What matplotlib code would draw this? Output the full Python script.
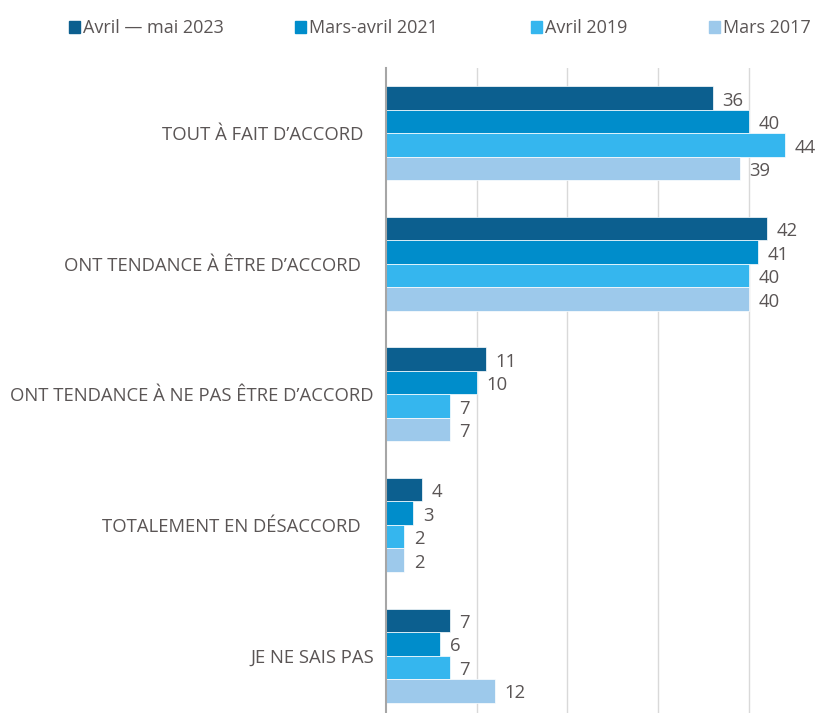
import matplotlib
matplotlib.use("Agg")
import matplotlib.pyplot as plt
from matplotlib.patches import Rectangle
import numpy as np

categories = ["TOUT À FAIT D’ACCORD", "ONT TENDANCE À ÊTRE D’ACCORD",
              "ONT TENDANCE À NE PAS ÊTRE D’ACCORD", "TOTALEMENT EN DÉSACCORD",
              "JE NE SAIS PAS"]
series_names = ["Avril — mai 2023", "Mars-avril 2021", "Avril 2019", "Mars 2017"]
v2023 = [36, 42, 11, 4, 7]
v2021 = [40, 41, 10, 3, 6]
v2019 = [44, 40, 7, 2, 7]
v2017 = [39, 40, 7, 2, 12]
series_values = [v2023, v2021, v2019, v2017]
colors = ["#0C5F8F", "#008DCB", "#35B6EE", "#9DC9EB"]

plt.rcParams['font.family'] = ['Open Sans', 'DejaVu Sans']
txt = "#5a5555"

W, H = 832, 713
fig = plt.figure(figsize=(W/100, H/100), dpi=100)
left, right, top, bottom = 386, 832, 68, 713
ax = fig.add_axes([left/W, 1-bottom/H, (right-left)/W, (bottom-top)/H])

bh = 0.18
y = np.arange(len(categories))
for k, (vals, c) in enumerate(zip(series_values, colors)):
    pos = y - 1.5*bh + k*bh
    ax.barh(pos, vals, height=bh, color=c, edgecolor="white", linewidth=0.5, zorder=3)
    for p, v in zip(pos, vals):
        ax.text(v + 1.05, p + 0.02, str(v), va="center", ha="left", fontsize=13.3, color=txt)

ax.set_xlim(0, 49.15)
ax.set_ylim(4.44, -0.5)
ax.set_xticks([10, 20, 30, 40])
ax.grid(axis="x", color="#d9d9d9", linewidth=1, zorder=0)
ax.tick_params(axis="x", length=0, labelbottom=False)
ax.set_yticks([])
label_pads = [23, 25, 12, 25, 12]
for yi, cat, pad in zip(y, categories, label_pads):
    ax.annotate(cat, xy=(0, yi), xycoords=("axes fraction", "data"),
                xytext=(-pad, -2), textcoords="offset pixels",
                ha="right", va="center", fontsize=13.3, color=txt)
for s in ["top", "right", "bottom"]:
    ax.spines[s].set_visible(False)
ax.spines["left"].set_color("#a6a6a6")
ax.spines["left"].set_linewidth(1.5)
ax.spines["left"].set_zorder(4)

# legend drawn manually
leg_x = [69, 295, 531, 709]
for lx, name, c in zip(leg_x, series_names, colors):
    fig.patches.append(Rectangle((lx/W, 1-33/H), 11/W, 12/H, transform=fig.transFigure,
                                 color=c, figure=fig))
    fig.text((lx+14)/W, 1-28/H, name, fontsize=13, color=txt, va="center", ha="left")

fig.savefig("out.png", dpi=100)
